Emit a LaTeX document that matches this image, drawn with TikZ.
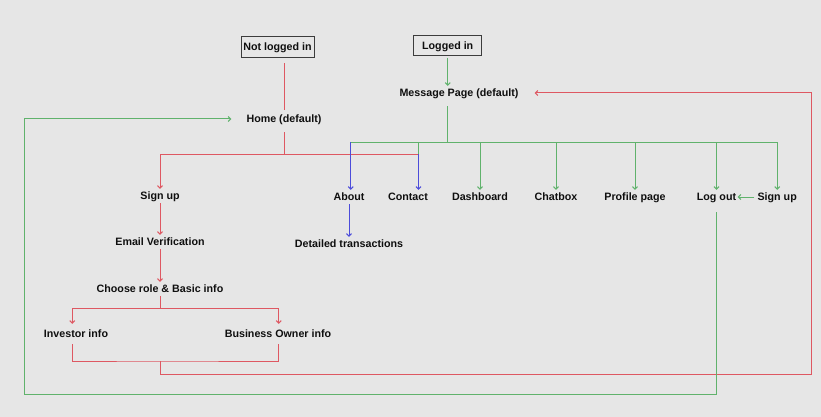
\documentclass[tikz,border=0pt]{standalone}
\usepackage{fontspec}
\setmainfont{Liberation Sans}
\usetikzlibrary{arrows.meta}
\definecolor{bgc}{RGB}{230,230,230}
\definecolor{txt}{RGB}{15,15,15}
\definecolor{boxc}{RGB}{60,60,60}
\definecolor{redc}{RGB}{222,88,98}
\definecolor{greenc}{RGB}{96,178,108}
\definecolor{bluec}{RGB}{76,76,218}
\begin{document}
\begin{tikzpicture}[x=1pt,y=-1pt,
  lbl/.style={font=\bfseries\fontsize{10.7}{12}\selectfont, text=txt, inner xsep=0pt, inner ysep=0pt, text height=10.8pt, text depth=3.2pt},
  statebox/.style={lbl, draw=boxc, line width=0.9pt},
  ln/.style={line width=1pt},
  arr/.style={ln, -{Straight Barb[length=2.5pt,width=5pt]}}]
\fill[bgc] (0,0) rectangle (821,417);
\useasboundingbox (0,0) rectangle (821,417);

% nodes
\node[statebox, minimum width=73pt, minimum height=21pt] (notin) at (277.5,46.5) {Not logged in};
\node[statebox, minimum width=68pt, minimum height=19.5pt] (login) at (447.7,45.4) {Logged in};
\node[lbl] (home) at (284,119) {Home (default)};
\node[lbl] (msg) at (459,93) {Message Page (default)};
\node[lbl] (signupL) at (160,196) {Sign up};
\node[lbl] (email) at (160,242) {Email Verification};
\node[lbl] (choose) at (160,289) {Choose role \& Basic info};
\node[lbl] (investor) at (76,334) {Investor info};
\node[lbl] (biz) at (278,334) {Business Owner info};
\node[lbl] (about) at (349,197) {About};
\node[lbl] (detail) at (349,244) {Detailed transactions};
\node[lbl] (contact) at (408,197) {Contact};
\node[lbl] (dash) at (480,197) {Dashboard};
\node[lbl] (chat) at (556,197) {Chatbox};
\node[lbl] (profile) at (635,197) {Profile page};
\node[lbl] (logout) at (716.5,197) {Log out};
\node[lbl] (signupR) at (777.2,197) {Sign up};

% junction points
\coordinate (hj) at (284,154);
\coordinate (rC) at (418.5,154);
\coordinate (gj) at (447.7,142);
\coordinate (gL) at (350.7,142);
\coordinate (gC) at (418.5,142);
\coordinate (cj) at (160,308);
\coordinate (bj) at (160,361);
\coordinate (rB) at (811,374);
\coordinate (gB) at (24.3,394);

% red (not logged in)
\draw[ln,redc] (notin.south -| home) ++(0,6) -- ([yshift=2pt]home.north);
\draw[ln,redc] ([yshift=-6pt]home.south) -- (hj);
\draw[arr,redc] (hj) -| (signupL.north);
\draw[ln,redc] (hj) -- (rC);
\draw[arr,redc] (signupL.south) -- (email.north);
\draw[arr,redc] (email.south) -- (choose.north);
\draw[ln,redc] (choose.south) -- (cj);
\draw[arr,redc] (cj) -| ([shift={(-3.7,-3)}]investor.north);
\draw[arr,redc] (cj) -| ([shift={(0.7,-3)}]biz.north);
\draw[ln,redc] ([shift={(-3.7,3)}]investor.south) |- (bj) -| ([shift={(0.7,3)}]biz.south);
\draw[arr,redc] (bj) |- (rB) |- ([xshift=16pt]msg.east);

% green (logged in)
\draw[arr,greenc] ([yshift=-2pt]login.south) -- (login.south |- msg.north);
\draw[ln,greenc] (gj |- msg.south) ++(0,6) -- (gj);
\draw[ln,greenc] (gL) -- (signupR.north |- gj);
\draw[ln,greenc] (gC) -- (rC);
\draw[arr,greenc] (gj -| dash) -- (dash.north);
\draw[arr,greenc] (gj -| chat) -- (chat.north);
\draw[arr,greenc] (gj -| profile) -- (profile.north);
\draw[arr,greenc] (gj -| logout) -- (logout.north);
\draw[arr,greenc] (gj -| signupR) -- (signupR.north);
\draw[arr,greenc] ([xshift=-3pt]signupR.west) -- ([xshift=1.4pt]logout.east);
\draw[arr,greenc] (logout.south) ++(0,8) |- (gB) |- ([xshift=-15pt]home.west);

% blue
\draw[arr,bluec] (gL) -- (gL |- about.north);
\draw[arr,bluec] (rC) -- (rC |- contact.north);
\draw[arr,bluec] (about.south) -- (detail.north);
\end{tikzpicture}
\end{document}
